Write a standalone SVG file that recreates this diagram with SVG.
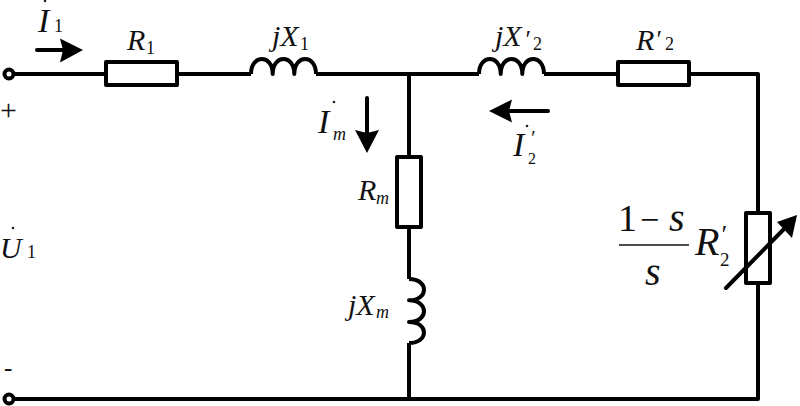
<svg xmlns="http://www.w3.org/2000/svg" width="800" height="406" viewBox="0 0 800 406">
<style>
.w{fill:none;stroke:#000;stroke-width:4;stroke-linejoin:round}
.a{fill:none;stroke:#000;stroke-width:4;stroke-linecap:round}
.h{fill:#000;stroke:none}
.d{fill:#222;stroke:none}
.r{fill:#fff;stroke:#000;stroke-width:4;stroke-linejoin:round}
text{font-family:"Liberation Serif","Times New Roman",serif;fill:#111}
.i{font-style:italic;font-size:30px}
.b{font-style:italic;font-size:34px}
.l{font-style:italic;font-size:40px}
.s{font-size:18px}
.m{font-style:italic;font-size:18px}
.p{font-style:italic;font-size:25px}
</style>
<defs>
<path id="coil" class="w" d="M0 0C0 -20 21.700 -20 21.700 0C21.700 -20 43.300 -20 43.300 0C43.300 -20 65 -20 65 0"/>
</defs>
<rect width="800" height="406" fill="#fff"/>
<g id="connectors">
<path class="w" d="M14 74H106M177 74H251M316 74H479M544 74H618M689 74H758V213M758 283V399H14M409 74V157M409 227V279M409 343V399"/>
</g>
<g id="terminal-top"><circle class="r" cx="9" cy="74" r="4.500"/><text x="0" y="120" style="font-size:30px">+</text></g>
<g id="terminal-bottom"><circle class="r" cx="9" cy="399" r="4.500"/><text x="4" y="376" style="font-size:25px">-</text></g>
<g id="U1"><text class="i" x="0" y="258">U</text><text class="s" x="27" y="258">1</text><circle class="d" cx="13" cy="228" r="1.300"/></g>
<g id="I1"><text class="b" x="38" y="32">I</text><text class="s" x="54" y="32">1</text><circle class="d" cx="45" cy="1" r="1.300"/>
<path class="a" d="M37 50H64"/><path class="h" d="M83 50L60 38.500L63 50L60 62.500Z"/></g>
<g id="R1"><rect class="r" x="106" y="62" width="71" height="23"/><text class="i" x="127" y="50">R</text><text class="s" x="146" y="54">1</text></g>
<g id="X1"><use href="#coil" x="251" y="74"/><text class="i" x="272" y="46">jX</text><text class="s" x="300" y="50">1</text></g>
<g id="X2"><use href="#coil" x="479" y="74"/><text class="i" x="495" y="46">jX<tspan class="p" x="524" y="48">′</tspan><tspan class="s" x="533" y="50" style="font-style:normal">2</tspan></text></g>
<g id="R2"><rect class="r" x="618" y="62" width="71" height="23"/><text class="i" x="636" y="50">R<tspan class="p" x="655" y="48">′</tspan><tspan class="s" x="665" y="50" style="font-style:normal">2</tspan></text></g>
<g id="Im"><text class="b" x="318" y="133">I</text><text class="m" x="333" y="140">m</text><circle class="d" cx="334" cy="102" r="1.300"/>
<path class="a" d="M367 98V134"/><path class="h" d="M367 153L355 130L367 133L379 130Z"/></g>
<g id="I2"><text class="b" x="513" y="156">I<tspan x="530" y="145" style="font-size:20px">′</tspan><tspan x="528" y="164" style="font-size:16px;font-style:normal">2</tspan></text><circle class="d" cx="527" cy="126" r="1.300"/>
<path class="a" d="M548 111H508"/><path class="h" d="M489 111L512 99.500L509 111L512 122.500Z"/></g>
<g id="Rm"><rect class="r" x="397" y="157" width="24" height="70"/><text class="i" x="358" y="200">R</text><text class="m" x="376" y="204">m</text></g>
<g id="Xm"><path class="w" d="M409 279C429 279 429 300.300 409 300.300C429 300.300 429 322 409 322C429 322 429 343 409 343"/><text class="i" x="348" y="315">jX</text><text class="m" x="376" y="318">m</text></g>
<g id="RL"><rect class="r" x="746" y="213" width="24" height="70"/>
<path class="a" d="M726 288L784 229"/><path class="h" d="M797 215L777 222L792 238Z"/>
<text x="618" y="231" style="font-size:38px">1</text><text x="640" y="231" style="font-size:34px">−</text><text class="l" x="669" y="231">s</text>
<path d="M619 245H689" fill="none" stroke="#111" stroke-width="1.500"/>
<text class="l" x="645" y="285">s</text>
<text class="l" x="695" y="255">R<tspan x="720" y="243" style="font-size:26px">′</tspan><tspan x="720" y="266" style="font-size:19px;font-style:normal">2</tspan></text></g>
</svg>
